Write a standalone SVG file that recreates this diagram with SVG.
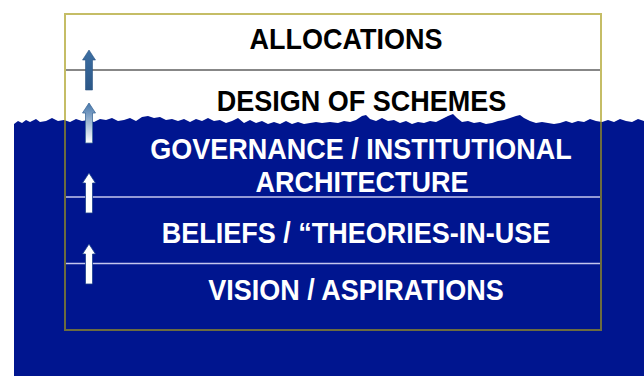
<svg xmlns="http://www.w3.org/2000/svg" width="644" height="376" viewBox="0 0 644 376">
<style>
.t{font-family:"Liberation Sans",Arial,sans-serif;font-weight:bold;font-size:27px;text-anchor:middle}
.dk{fill:#000}
.lt{fill:#fff}
.sep{stroke:#c4c6ee;stroke-width:1.6}
</style>
<defs>
<linearGradient id="g1" x1="0" y1="0" x2="0" y2="1">
<stop offset="0" stop-color="#3d6fa3"/>
<stop offset="1" stop-color="#2b5787"/>
</linearGradient>
<linearGradient id="g2" x1="0" y1="0" x2="0" y2="1">
<stop offset="0" stop-color="#4576aa"/>
<stop offset="1" stop-color="#ffffff"/>
</linearGradient>
<path id="arr" d="M0,0 L6.5,10 L3.5,10 L3.5,40 L-3.5,40 L-3.5,10 L-6.5,10 Z"/>
</defs>
<rect width="644" height="376" fill="#fff"/>
<g id="water">
<path fill="#00158f" d="M14,376 L14,124 L18,121 L22,123 L26,120 L30,122 L36,119 L40,122 L46,121 L52,118 L58,121 L64,120 L70,122 L76,119 L82,121 L88,120 L94,122 L100,119 L106,120 L112,118 L118,121 L124,120 L130,118 L136,121 L142,117 L148,116 L154,118 L160,117 L166,120 L172,119 L178,121 L184,119 L190,122 L196,119 L202,121 L208,118 L214,121 L220,120 L226,123 L232,121 L238,118 L244,123 L250,120 L256,123 L262,121 L268,124 L274,122 L280,124 L286,121 L292,124 L298,122 L304,124 L310,123 L316,122 L322,123 L330,122 L338,123 L344,121 L350,122 L356,120 L362,116 L366,115 L370,119 L376,121 L382,118 L388,121 L394,120 L400,123 L406,121 L412,124 L418,122 L424,123 L430,121 L436,122 L442,119 L448,116 L453,114 L457,118 L462,122 L468,121 L474,123 L480,122 L486,124 L492,123 L498,121 L504,120 L510,118 L516,116 L520,115 L524,118 L530,121 L536,123 L542,122 L548,123 L554,124 L560,123 L566,121 L572,123 L578,121 L584,122 L590,119 L596,121 L602,122 L608,120 L614,122 L620,119 L626,121 L632,122 L638,119 L644,121 L644,376 Z"/>
</g>
<g id="frame">
<rect x="65" y="14" width="536" height="316" fill="none" stroke="#a69a14" stroke-opacity="0.65" stroke-width="2"/>
</g>
<g id="separators">
<line x1="66" y1="70" x2="600" y2="70" stroke="#111" stroke-width="1.2"/>
<line class="sep" x1="66" y1="197" x2="600" y2="197"/>
<line class="sep" x1="66" y1="263.5" x2="600" y2="263.5"/>
</g>
<g id="allocations"><text class="t dk" transform="translate(346,49) scale(1,1.08)">ALLOCATIONS</text></g>
<g id="design"><text class="t dk" transform="translate(361.5,111) scale(1,1.08)">DESIGN OF SCHEMES</text></g>
<g id="governance"><text class="t lt" transform="translate(361,158.5) scale(1,1.08)">GOVERNANCE / INSTITUTIONAL</text><text class="t lt" transform="translate(362,191.5) scale(1,1.08)">ARCHITECTURE</text></g>
<g id="beliefs"><text class="t lt" transform="translate(356,242.5) scale(1,1.08)">BELIEFS / “THEORIES-IN-USE</text></g>
<g id="vision"><text class="t lt" transform="translate(356,300) scale(1,1.08)">VISION / ASPIRATIONS</text></g>
<g id="connectors">
<use href="#arr" x="89" y="50" fill="url(#g1)" stroke="#2b5585" stroke-width="0.6"/>
<use href="#arr" x="89" y="103" fill="url(#g2)" stroke="#3d6a9a" stroke-width="0.8"/>
<use href="#arr" x="89" y="173" fill="#fff" stroke="#1a3f8a" stroke-width="0.8"/>
<use href="#arr" x="89" y="244" fill="#fff" stroke="#1a3f8a" stroke-width="0.8"/>
</g>
</svg>
